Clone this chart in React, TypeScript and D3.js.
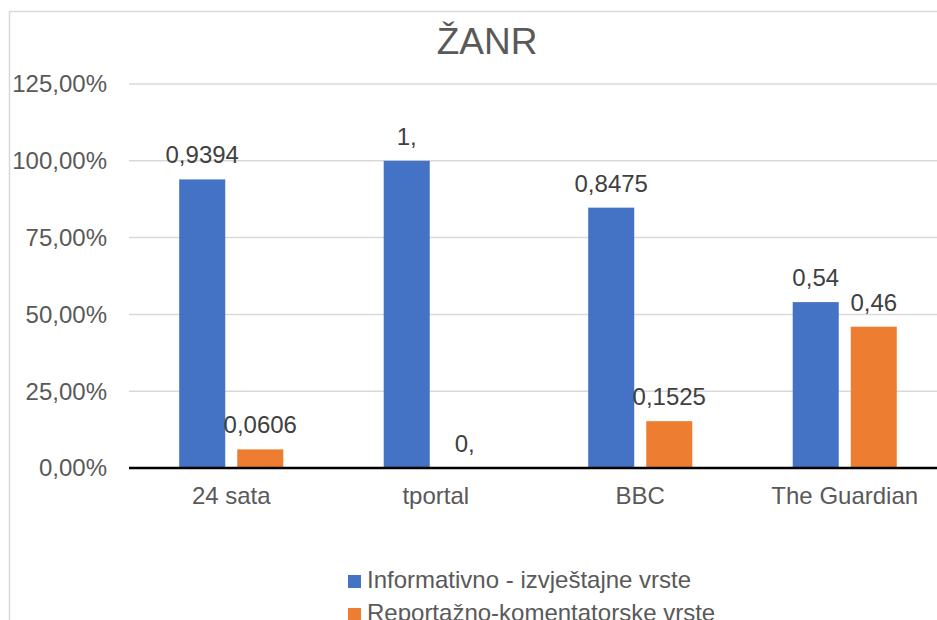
import { useRef, useEffect } from "react";
import * as d3 from "d3";

const categories = ["24 sata", "tportal", "BBC", "The Guardian"];
const seriesNames = ["Informativno - izvještajne vrste", "Reportažno-komentatorske vrste"];
const informativno = [0.9394, 1, 0.8475, 0.54];
const reportazno = [0.0606, 0, 0.1525, 0.46];
const informativnoLabels = ["0,9394", "1,", "0,8475", "0,54"];
const reportaznoLabels = ["0,0606", "0,", "0,1525", "0,46"];
const yTicks = [0, 0.25, 0.5, 0.75, 1, 1.25];
const colors = ["#4472C4", "#ED7D31"];

const FONT = "'Liberation Sans', Arial, sans-serif";

const App = () => {
  const ref = useRef<HTMLDivElement>(null);

  useEffect(() => {
    const W = 937;
    const H = 620;
    const left = 129;
    const right = 947;
    const top = 84;
    const bottom = 468;

    const svg = d3
      .select(ref.current)
      .html("")
      .append("svg")
      .attr("width", W)
      .attr("height", H)
      .style("position", "fixed")
      .style("left", "0px")
      .style("top", "0px")
      .style("background", "#fff");

    // chart frame
    svg
      .append("rect")
      .attr("x", 9.5)
      .attr("y", 11.5)
      .attr("width", W + 20)
      .attr("height", H + 20)
      .attr("fill", "#fff")
      .attr("stroke", "#d9d9d9")
      .attr("stroke-width", 1.5);

    svg
      .append("text")
      .attr("x", 487)
      .attr("y", 54)
      .attr("text-anchor", "middle")
      .attr("font-family", FONT)
      .attr("font-size", 37)
      .attr("fill", "#595959")
      .text("ŽANR");

    const y = d3.scaleLinear().domain([0, 1.25]).range([bottom, top]);

    const x0 = d3
      .scaleBand()
      .domain(categories)
      .range([left, right])
      .paddingInner(0.491)
      .paddingOuter(0.2455);

    const x1 = d3
      .scaleBand()
      .domain(["0", "1"])
      .range([0, x0.bandwidth()])
      .paddingInner(0.207);

    // gridlines
    svg
      .append("g")
      .selectAll("line")
      .data(yTicks.filter((t) => t > 0))
      .enter()
      .append("line")
      .attr("x1", left)
      .attr("x2", W + 10)
      .attr("y1", (d) => y(d))
      .attr("y2", (d) => y(d))
      .attr("stroke", "#d9d9d9")
      .attr("stroke-width", 1.5);

    // y tick labels
    svg
      .append("g")
      .selectAll("text")
      .data(yTicks)
      .enter()
      .append("text")
      .attr("x", 107)
      .attr("y", (d) => y(d))
      .attr("dy", "0.35em")
      .attr("text-anchor", "end")
      .attr("font-family", FONT)
      .attr("font-size", 24)
      .attr("fill", "#595959")
      .text((d) => (d * 100).toFixed(2).replace(".", ",") + "%");

    const series = [informativno, reportazno];
    const labels = [informativnoLabels, reportaznoLabels];

    series.forEach((values, s) => {
      const g = svg.append("g");
      g.selectAll("rect")
        .data(values)
        .enter()
        .append("rect")
        .attr("x", (_, i) => (x0(categories[i]) ?? 0) + (x1(String(s)) ?? 0))
        .attr("y", (d) => y(d))
        .attr("width", x1.bandwidth())
        .attr("height", (d) => bottom - y(d))
        .attr("fill", colors[s]);

      g.selectAll("text")
        .data(values)
        .enter()
        .append("text")
        .attr("x", (_, i) => (x0(categories[i]) ?? 0) + (x1(String(s)) ?? 0) + x1.bandwidth() / 2)
        .attr("y", (d) => y(d) - 16)
        .attr("text-anchor", "middle")
        .attr("font-family", FONT)
        .attr("font-size", 24)
        .attr("fill", "#404040")
        .text((_, i) => labels[s][i]);
    });

    // x axis line
    svg
      .append("line")
      .attr("x1", left)
      .attr("x2", W + 10)
      .attr("y1", bottom)
      .attr("y2", bottom)
      .attr("stroke", "#000")
      .attr("stroke-width", 2.5);

    svg
      .append("g")
      .selectAll("text")
      .data(categories)
      .enter()
      .append("text")
      .attr("x", (d) => (x0(d) ?? 0) + x0.bandwidth() / 2)
      .attr("y", 504)
      .attr("text-anchor", "middle")
      .attr("font-family", FONT)
      .attr("font-size", 24)
      .attr("fill", "#595959")
      .text((d) => d);

    // legend
    const legend = svg
      .append("g")
      .selectAll("g")
      .data(seriesNames)
      .enter()
      .append("g")
      .attr("transform", (_, i) => `translate(348,${575 + i * 33})`);

    legend
      .append("rect")
      .attr("width", 13)
      .attr("height", 13)
      .attr("fill", (_, i) => colors[i]);

    legend
      .append("text")
      .attr("x", 19)
      .attr("y", 13)
      .attr("font-family", FONT)
      .attr("font-size", 24)
      .attr("fill", "#595959")
      .text((d) => d);
  }, []);

  return <div ref={ref} />;
};

export default App;
